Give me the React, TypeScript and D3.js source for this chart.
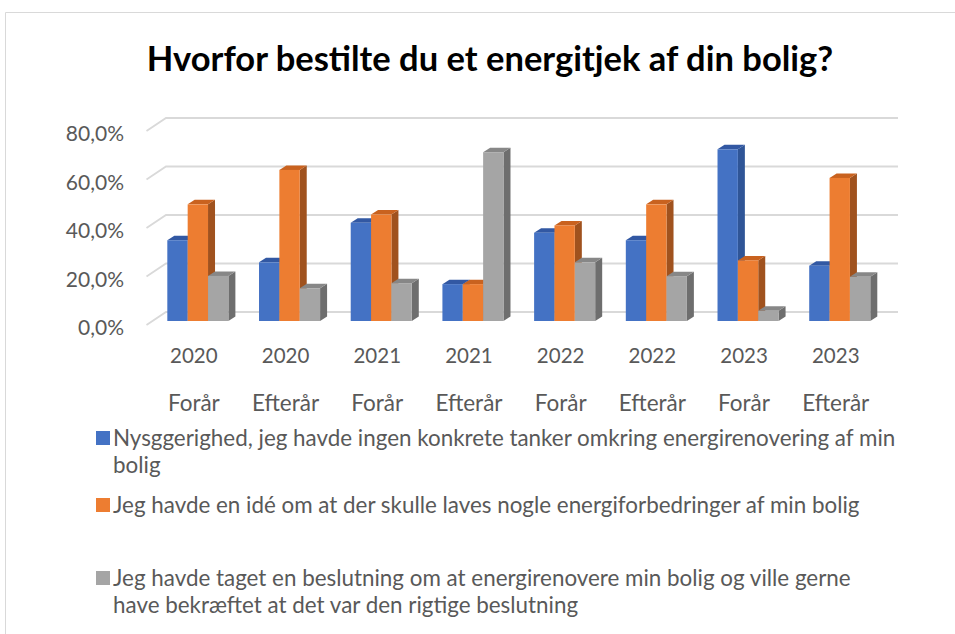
import React from "react";
import * as d3 from "d3";

const categories = [
  ["2020", "Forår"],
  ["2020", "Efterår"],
  ["2021", "Forår"],
  ["2021", "Efterår"],
  ["2022", "Forår"],
  ["2022", "Efterår"],
  ["2023", "Forår"],
  ["2023", "Efterår"],
];

const seriesNames = [
  ["Nysggerighed, jeg havde ingen konkrete tanker omkring energirenovering af min", "bolig"],
  ["Jeg havde en idé om at der skulle laves nogle energiforbedringer af min bolig"],
  ["Jeg havde taget en beslutning om at energirenovere min bolig og ville gerne", "have bekræftet at det var den rigtige beslutning"],
];

const nysgerrighed = [0.333, 0.242, 0.405, 0.152, 0.364, 0.333, 0.708, 0.228];
const ide = [0.481, 0.623, 0.439, 0.152, 0.394, 0.481, 0.25, 0.59];
const beslutning = [0.186, 0.135, 0.156, 0.696, 0.242, 0.185, 0.042, 0.182];

const seriesValues = [nysgerrighed, ide, beslutning];
const yTicks = [0, 0.2, 0.4, 0.6, 0.8];

const title = "Hvorfor bestilte du et energitjek af din bolig?";

const faceColors = [
  { front: "#4472C4", top: "#3258A3", side: "#2F5597" },
  { front: "#ED7D31", top: "#C9621F", side: "#A0521E" },
  { front: "#A5A5A5", top: "#878787", side: "#6E6E6E" },
];

const FONT = "Lato, 'Open Sans', sans-serif";
const TXT = "#595959";

export default function App() {
  const catKeys = categories.map((c, i) => String(i));
  const x = d3
    .scaleBand<string>()
    .domain(catKeys)
    .range([152, 885.6])
    .paddingInner(0.334)
    .paddingOuter(0.167);
  const xs = d3
    .scaleBand<number>()
    .domain([0, 1, 2])
    .range([0, x.bandwidth()]);
  const y = d3.scaleLinear().domain([0, 0.8]).range([321, 127]);
  const wallDy = -9;
  const wallX0 = 166;
  const wallX1 = 898;
  const sideDx = -19.5;
  const sideDy = 13;
  const dx = 7;
  const dy = -4.5;

  const bars: React.ReactNode[] = [];
  categories.forEach((c, ci) => {
    seriesValues.forEach((vals, si) => {
      const x0 = (x(String(ci)) as number) + (xs(si) as number);
      const w = xs.bandwidth();
      const yt = y(vals[ci]);
      const yb = y(0);
      const col = faceColors[si];
      bars.push(
        <g key={`${ci}-${si}`}>
          <polygon
            points={`${x0 + w},${yb} ${x0 + w + dx},${yb + dy} ${x0 + w + dx},${yt + dy} ${x0 + w},${yt}`}
            fill={col.side}
          />
          <polygon
            points={`${x0},${yt} ${x0 + dx},${yt + dy} ${x0 + w + dx},${yt + dy} ${x0 + w},${yt}`}
            fill={col.top}
          />
          <rect x={x0} y={yt} width={w} height={yb - yt} fill={col.front} />
        </g>
      );
    });
  });

  const legendRows = [
    { base: 446, lines: seriesNames[0] },
    { base: 513, lines: seriesNames[1] },
    { base: 586, lines: seriesNames[2] },
  ];

  return (
    <svg
      width={955}
      height={634}
      style={{ position: "absolute", left: 0, top: 0, background: "#fff" }}
    >
      <rect x={0} y={0} width={955} height={634} fill="#fff" />
      <path d="M5.5,640 L5.5,12.5 L960,12.5" fill="none" stroke="#D9D9D9" strokeWidth={1} />
      <text
        x={490}
        y={71}
        textAnchor="middle"
        fontFamily={FONT}
        fontWeight={700}
        fontSize={34.5}
        fill="#000"
      >
        {title}
      </text>

      {yTicks.map((t) => {
        const yw = y(t) + wallDy;
        return (
          <g key={t}>
            <path
              d={`M${wallX0 + sideDx},${yw + sideDy} L${wallX0},${yw} L${wallX1},${yw}`}
              fill="none"
              stroke="#D9D9D9"
              strokeWidth={1.8}
            />
            <text
              x={124}
              y={yw + sideDy + 10}
              textAnchor="end"
              fontFamily={FONT}
              fontSize={21}
              fill={TXT}
            >
              {d3.format(".1%")(t).replace(".", ",")}
            </text>
          </g>
        );
      })}

      {bars}

      {categories.map((c, ci) => {
        const cx = (x(String(ci)) as number) + x.bandwidth() / 2 - 4;
        return (
          <g key={ci}>
            <text x={cx} y={363} textAnchor="middle" fontFamily={FONT} fontSize={20.5} fill={TXT}>
              {c[0]}
            </text>
            <text x={cx} y={411} textAnchor="middle" fontFamily={FONT} fontSize={22.5} fill={TXT}>
              {c[1]}
            </text>
          </g>
        );
      })}

      {legendRows.map((r, i) => (
        <g key={i}>
          <rect x={96} y={r.base - 15} width={14} height={14} fill={faceColors[i].front} />
          {r.lines.map((l, li) => (
            <text
              key={li}
              x={113}
              y={r.base + li * 27}
              fontFamily={FONT}
              fontSize={22.4}
              fill={TXT}
            >
              {l}
            </text>
          ))}
        </g>
      ))}
    </svg>
  );
}
